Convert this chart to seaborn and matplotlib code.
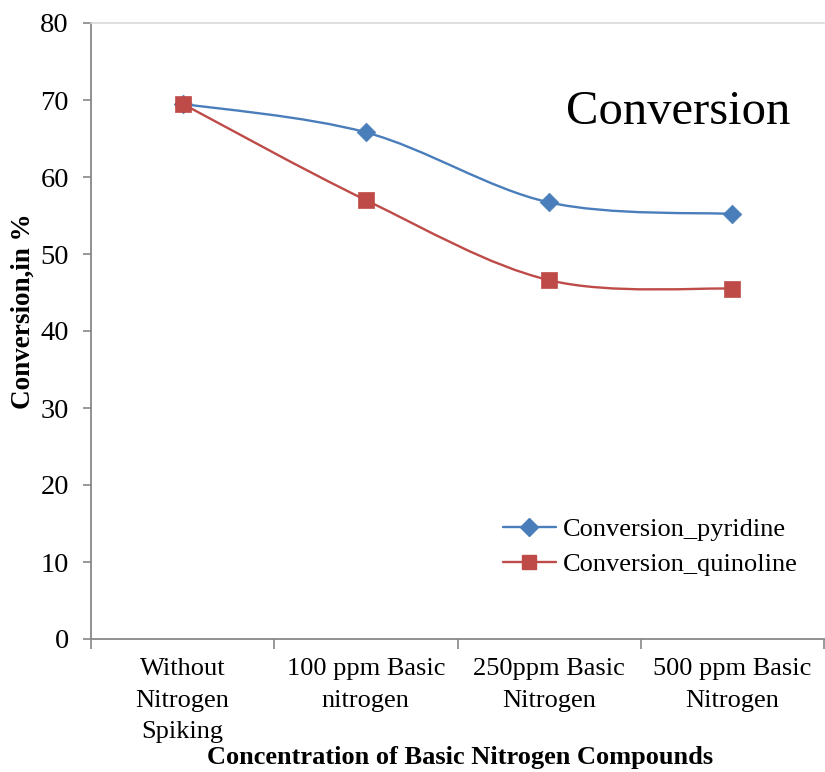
import numpy as np
import matplotlib
matplotlib.use("Agg")
import matplotlib.pyplot as plt
import seaborn as sns
from matplotlib.path import Path
from matplotlib.patches import PathPatch
from matplotlib.lines import Line2D

categories = ["Without\nNitrogen\nSpiking", "100 ppm Basic\nnitrogen",
              "250ppm Basic\nNitrogen", "500 ppm Basic\nNitrogen"]
pyridine = [69.5, 65.8, 56.7, 55.2]
quinoline = [69.5, 57.0, 46.6, 45.5]
series_names = ["Conversion_pyridine", "Conversion_quinoline"]
y_ticks = [0, 10, 20, 30, 40, 50, 60, 70, 80]

sns.set_theme(style="white")
plt.rcParams['font.family'] = ['Liberation Serif', 'DejaVu Serif']
plt.rcParams['mathtext.fontset'] = 'stix'
plt.rcParams['text.color'] = 'black'
plt.rcParams['axes.labelcolor'] = 'black'
plt.rcParams['xtick.color'] = 'black'
plt.rcParams['ytick.color'] = 'black'

fig = plt.figure(figsize=(8.25, 7.72), dpi=100)
ax = fig.add_axes([91/825, 1-639/772, 733/825, 616/772])

BLUE = "#4A7EBB"
RED = "#BE4B48"


def smooth_path(xs, ys):
    pts = list(zip(xs, ys))
    n = len(pts)
    verts = [pts[0]]
    codes = [Path.MOVETO]
    for i in range(n - 1):
        p0 = pts[i - 1] if i > 0 else pts[i]
        p1 = pts[i]
        p2 = pts[i + 1]
        p3 = pts[i + 2] if i + 2 < n else pts[i + 1]
        c1 = (p1[0] + (p2[0] - p0[0]) / 6, p1[1] + (p2[1] - p0[1]) / 6)
        c2 = (p2[0] - (p3[0] - p1[0]) / 6, p2[1] - (p3[1] - p1[1]) / 6)
        verts += [c1, c2, p2]
        codes += [Path.CURVE4] * 3
    return Path(verts, codes)


xpos = np.arange(len(categories))
for vals, col, mk, s in [(pyridine, BLUE, 'D', 90), (quinoline, RED, 's', 125)]:
    ax.add_patch(PathPatch(smooth_path(xpos, vals), facecolor='none',
                           edgecolor=col, lw=1.7, zorder=2))
    sns.scatterplot(x=xpos, y=vals, marker=mk, color=col, s=s,
                    edgecolor=col, linewidth=0.5, ax=ax, zorder=3, legend=False)

ax.set_xlim(-0.5, 3.5)
ax.set_ylim(0, 80)
ax.set_yticks(y_ticks)
ax.set_yticklabels([str(v) for v in y_ticks], fontsize=20.5)
ax.set_xticks(xpos)
ax.set_xticklabels(categories, fontsize=19, linespacing=1.55)
ax.set_xticks(np.arange(-0.5, 4.0, 1.0), minor=True)
ax.tick_params(axis='x', which='major', length=0, pad=14, labelcolor='black')
ax.tick_params(axis='x', which='minor', length=7, width=1.2, color='#888888', direction='out', bottom=True)
ax.tick_params(axis='y', which='major', length=6, width=1.2, color='#888888', direction='out', left=True, pad=10, labelcolor='black')

for side in ['left', 'bottom']:
    ax.spines[side].set_color('#888888')
    ax.spines[side].set_linewidth(1.3)
ax.spines['top'].set_color('#D9D9D9')
ax.spines['top'].set_linewidth(1.2)
ax.spines['right'].set_visible(False)
ax.grid(False)

ax.set_ylabel("Conversion,in %", fontsize=19.5, fontweight='bold', color='black')
ax.yaxis.set_label_coords((36-91)/733, (639-311)/616, transform=ax.transAxes)
ax.set_xlabel("Concentration of Basic Nitrogen Compounds", fontsize=19,
              fontweight='bold', color='black')
ax.xaxis.set_label_coords((460-91)/733, -(746-639)/616)

ax.text(0.954, 0.855, "Conversion", transform=ax.transAxes, fontsize=35,
        ha='right', va='center', color='black')

handles = [Line2D([], [], color=BLUE, lw=1.7, marker='D', markersize=9.5, markeredgecolor=BLUE),
           Line2D([], [], color=RED, lw=1.7, marker='s', markersize=10.5, markeredgecolor=RED)]
leg = ax.legend(handles, series_names, loc='upper left', bbox_to_anchor=((503-91)/733, 0.197),
                frameon=False, fontsize=19, handlelength=2.0, handletextpad=0.25,
                labelspacing=0.45, borderaxespad=0, borderpad=0)
for t in leg.get_texts():
    t.set_color('black')

fig.savefig("out.png", dpi=100)
